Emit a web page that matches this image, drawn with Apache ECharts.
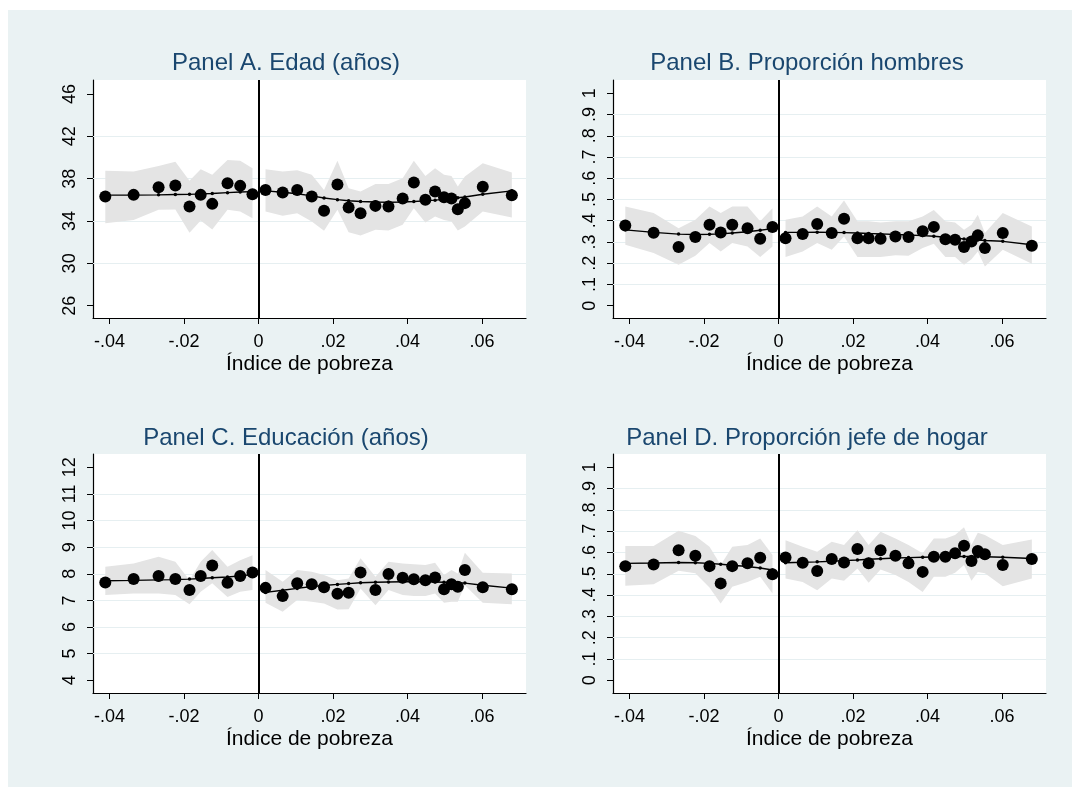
<!DOCTYPE html>
<html>
<head>
<meta charset="utf-8">
<script src="https://cdn.jsdelivr.net/npm/echarts@6/dist/echarts.min.js"></script>
<style>
  html, body { margin: 0; padding: 0; background: #ffffff; }
  #bg { position: absolute; left: 8px; top: 10px; width: 1064px; height: 777px; background: #EAF2F3; }
  #chart { position: absolute; left: 0; top: 0; width: 1072px; height: 787px; }
</style>
</head>
<body>
<div id="bg"></div>
<div id="chart"></div>
<script>
// ---------- Data ----------
const xBins = [-0.0411,-0.0335,-0.0268,-0.0223,-0.0185,-0.0155,-0.0124,-0.0083,-0.0049,-0.0016,
  0.0019,0.0065,0.0104,0.0143,0.0176,0.0212,0.0242,0.0274,0.0314,0.0349,
  0.0387,0.0417,0.0448,0.0474,0.0498,0.0518,0.0535,0.0554,0.0602,0.0680];
const cutoff = 0;

const panelTitles = ['Panel A. Edad (años)', 'Panel B. Proporción hombres',
  'Panel C. Educación (años)', 'Panel D. Proporción jefe de hogar'];
const xAxisTitle = 'Índice de pobreza';

const xTickVals = [-0.04, -0.02, 0, 0.02, 0.04, 0.06];
const xTickLabels = ['-.04', '-.02', '0', '.02', '.04', '.06'];

const yTicksA = [26, 30, 34, 38, 42, 46];
const yLabelsA = ['26', '30', '34', '38', '42', '46'];
const yTicksB = [0, 0.1, 0.2, 0.3, 0.4, 0.5, 0.6, 0.7, 0.8, 0.9, 1];
const yLabelsB = ['0', '.1', '.2', '.3', '.4', '.5', '.6', '.7', '.8', '.9', '1'];
const yTicksC = [4, 5, 6, 7, 8, 9, 10, 11, 12];
const yLabelsC = ['4', '5', '6', '7', '8', '9', '10', '11', '12'];
const yTicksD = [0, 0.1, 0.2, 0.3, 0.4, 0.5, 0.6, 0.7, 0.8, 0.9, 1];
const yLabelsD = ['0', '.1', '.2', '.3', '.4', '.5', '.6', '.7', '.8', '.9', '1'];

// Panel A: Edad
const meanA = [36.31,36.47,37.19,37.35,35.37,36.47,35.62,37.57,37.32,36.53,
  36.94,36.69,36.94,36.31,34.96,37.45,35.28,34.74,35.43,35.37,
  36.13,37.64,36.00,36.79,36.25,36.13,35.12,35.69,37.23,36.44];
const fitA = [36.45,36.45,36.47,36.50,36.52,36.56,36.60,36.68,36.74,36.78,
  36.85,36.72,36.58,36.38,36.18,36.02,35.92,35.84,35.80,35.78,
  35.80,35.84,35.90,35.97,36.04,36.12,36.20,36.27,36.53,36.85];
const hiA = [38.74,38.67,39.20,39.60,37.80,38.90,38.36,39.77,39.70,38.99,
  38.90,38.67,38.80,38.36,36.94,39.70,37.10,36.79,37.50,37.50,
  38.04,39.70,38.26,38.99,38.36,38.26,37.26,38.20,39.46,38.58];
const loA = [33.80,34.10,35.06,35.10,32.90,34.05,33.20,35.06,34.90,34.27,
  34.90,34.50,34.74,33.96,33.08,35.06,32.95,32.64,33.17,33.10,
  33.64,35.20,33.86,34.43,34.10,33.96,33.10,33.48,34.90,34.33];

// Panel B: Proporción hombres
const meanB = [0.378,0.343,0.276,0.323,0.381,0.345,0.381,0.365,0.315,0.370,
  0.318,0.337,0.384,0.342,0.409,0.318,0.318,0.315,0.326,0.323,
  0.350,0.371,0.313,0.310,0.276,0.302,0.331,0.271,0.342,0.282];
const fitB = [0.357,0.345,0.337,0.335,0.336,0.338,0.342,0.348,0.355,0.363,
  0.345,0.345,0.346,0.345,0.344,0.342,0.340,0.338,0.335,0.333,
  0.330,0.327,0.322,0.318,0.314,0.311,0.309,0.307,0.303,0.287];
const hiB = [0.467,0.436,0.365,0.404,0.467,0.436,0.467,0.467,0.397,0.459,
  0.404,0.420,0.467,0.420,0.495,0.397,0.397,0.392,0.397,0.397,
  0.420,0.451,0.397,0.392,0.357,0.381,0.428,0.342,0.436,0.373];
const loB = [0.287,0.248,0.193,0.235,0.295,0.255,0.295,0.279,0.229,0.279,
  0.229,0.255,0.295,0.263,0.326,0.229,0.229,0.229,0.237,0.235,
  0.271,0.292,0.229,0.229,0.193,0.219,0.255,0.185,0.263,0.197];

// Panel C: Educación
const meanC = [7.67,7.80,7.92,7.80,7.39,7.92,8.31,7.66,7.92,8.05,
  7.47,7.16,7.64,7.61,7.49,7.25,7.29,8.05,7.39,7.99,
  7.85,7.79,7.76,7.86,7.42,7.61,7.51,8.14,7.49,7.42];
const fitC = [7.74,7.75,7.77,7.78,7.80,7.82,7.85,7.88,7.92,7.97,
  7.30,7.38,7.45,7.52,7.56,7.60,7.63,7.66,7.68,7.69,
  7.70,7.70,7.70,7.69,7.68,7.67,7.66,7.65,7.57,7.46];
const hiC = [8.26,8.39,8.64,8.45,7.76,8.45,8.89,8.26,8.51,8.70,
  8.14,7.70,8.14,8.08,7.95,7.76,7.82,8.58,7.89,8.45,
  8.39,8.36,8.33,8.41,7.95,8.14,8.01,8.79,8.04,8.01];
const loC = [7.20,7.26,7.26,7.20,6.85,7.32,7.64,7.13,7.32,7.39,
  6.91,6.57,7.01,6.95,6.88,6.66,6.67,7.45,6.82,7.39,
  7.20,7.16,7.16,7.26,6.91,6.95,6.95,7.57,6.91,6.85];

// Panel D: Proporción jefe de hogar
const meanD = [0.536,0.544,0.611,0.585,0.536,0.455,0.536,0.549,0.575,0.498,
  0.577,0.552,0.513,0.569,0.553,0.616,0.549,0.611,0.585,0.549,
  0.509,0.580,0.580,0.596,0.632,0.560,0.607,0.592,0.541,0.569];
const fitD = [0.549,0.551,0.553,0.552,0.549,0.545,0.540,0.534,0.527,0.518,
  0.552,0.554,0.556,0.559,0.562,0.565,0.568,0.571,0.574,0.576,
  0.578,0.579,0.580,0.581,0.581,0.581,0.580,0.580,0.578,0.572];
const hiD = [0.630,0.630,0.702,0.677,0.627,0.541,0.627,0.635,0.666,0.588,
  0.658,0.627,0.603,0.650,0.635,0.705,0.635,0.697,0.666,0.635,
  0.596,0.666,0.666,0.682,0.718,0.635,0.693,0.682,0.635,0.661];
const loD = [0.444,0.451,0.514,0.502,0.436,0.361,0.439,0.462,0.486,0.408,
  0.478,0.462,0.423,0.478,0.467,0.525,0.458,0.520,0.494,0.462,
  0.415,0.486,0.486,0.505,0.541,0.467,0.509,0.502,0.442,0.478];

// ---------- Layout / style ----------
const FONT = 'Liberation Sans, Arial, Helvetica, sans-serif';
const TITLE_COLOR = '#1A476F';
const BAND_COLOR = '#E4E4E4';
const GRIDLINE_COLOR = '#E6EFF1';

const panels = [
  { title: panelTitles[0], mean: meanA, fit: fitA, hi: hiA, lo: loA, yTicks: yTicksA, yLabels: yLabelsA,
    ymin: 24.84, ymax: 47.32, grid: { left: 93, top: 80, width: 433, height: 238 }, titlePos: [286, 63] },
  { title: panelTitles[1], mean: meanB, fit: fitB, hi: hiB, lo: loB, yTicks: yTicksB, yLabels: yLabelsB,
    ymin: -0.058, ymax: 1.0625, grid: { left: 613, top: 80, width: 433, height: 238 }, titlePos: [807, 63] },
  { title: panelTitles[2], mean: meanC, fit: fitC, hi: hiC, lo: loC, yTicks: yTicksC, yLabels: yLabelsC,
    ymin: 3.52, ymax: 12.5, grid: { left: 93, top: 454, width: 433, height: 239 }, titlePos: [286, 438] },
  { title: panelTitles[3], mean: meanD, fit: fitD, hi: hiD, lo: loD, yTicks: yTicksD, yLabels: yLabelsD,
    ymin: -0.0597, ymax: 1.0625, grid: { left: 613, top: 454, width: 433, height: 239 }, titlePos: [807, 438] }
];

function labelFor(ticks, labels) {
  return function (v) {
    const i = ticks.findIndex(t => Math.abs(t - v) < 1e-9);
    return i >= 0 ? labels[i] : '';
  };
}

const grids = [], xAxes = [], yAxes = [], series = [], graphics = [];

panels.forEach((p, i) => {
  grids.push(Object.assign({ show: true, backgroundColor: '#ffffff', borderWidth: 0,
    containLabel: false, outerBoundsMode: 'none' }, p.grid));

  xAxes.push({
    type: 'value', gridIndex: i, min: -0.0444, max: 0.0718,
    axisLine: { show: true, onZero: false, lineStyle: { color: '#000', width: 1.2 } },
    axisTick: { show: true, length: 6, customValues: xTickVals, lineStyle: { color: '#000', width: 1 } },
    axisLabel: { customValues: xTickVals, formatter: labelFor(xTickVals, xTickLabels),
      margin: 15, color: '#000', fontSize: 18, fontFamily: FONT },
    splitLine: { show: false },
    name: xAxisTitle, nameLocation: 'middle', nameGap: 36,
    nameTextStyle: { color: '#000', fontSize: 21, fontFamily: FONT }
  });

  yAxes.push({
    type: 'value', gridIndex: i, min: p.ymin, max: p.ymax,
    axisLine: { show: true, onZero: false, lineStyle: { color: '#000', width: 1.2 } },
    axisTick: { show: true, length: 6, customValues: p.yTicks, lineStyle: { color: '#000', width: 1 } },
    axisLabel: { customValues: p.yTicks, formatter: labelFor(p.yTicks, p.yLabels), rotate: 90,
      margin: 14, color: '#000', fontSize: 18, fontFamily: FONT },
    splitLine: { show: false }
  });

  const gridVals = p.yTicks.slice(1, p.yTicks.length - 1);

  // split bins by side of cutoff
  const allIdx = xBins.map((x, k) => k);
  const sides = [
    allIdx.filter(k => xBins[k] < cutoff),
    allIdx.filter(k => xBins[k] >= cutoff)
  ];

  sides.forEach((idx, s) => {
    // confidence band: polygon built from the upper and lower arrays via the axis scales
    series.push({
      type: 'custom', xAxisIndex: i, yAxisIndex: i, z: 2, silent: true,
      data: idx.map(k => [xBins[k], p.lo[k], p.hi[k]]),
      encode: { x: 0, y: [1, 2] },
      renderItem: function (params, api) {
        if (params.dataIndex !== 0) return null;
        const pts = [];
        idx.forEach(k => pts.push(api.coord([xBins[k], p.hi[k]])));
        idx.slice().reverse().forEach(k => pts.push(api.coord([xBins[k], p.lo[k]])));
        return { type: 'polygon', shape: { points: pts }, style: { fill: BAND_COLOR } };
      }
    });
    // fitted line
    series.push({
      type: 'line', xAxisIndex: i, yAxisIndex: i, z: 4,
      data: idx.map(k => [xBins[k], p.fit[k]]),
      symbol: 'circle', symbolSize: 3.5, showSymbol: true,
      itemStyle: { color: '#000' }, lineStyle: { color: '#000', width: 1.4 },
      silent: true,
      markLine: s === 0 ? {
        z: 3, silent: true, symbol: ['none', 'none'], label: { show: false },
        lineStyle: { color: '#000', width: 2, type: 'solid' },
        emphasis: { disabled: true },
        data: [{ xAxis: cutoff }]
      } : undefined
    });
  });

  series.push({
    type: 'scatter', xAxisIndex: i, yAxisIndex: i, z: 5,
    data: xBins.map((x, k) => [x, p.mean[k]]),
    symbol: 'circle', symbolSize: 12, itemStyle: { color: '#000', opacity: 1 }, silent: true,
    markLine: {
      z: 1, silent: true, symbol: ['none', 'none'], label: { show: false },
      lineStyle: { color: GRIDLINE_COLOR, width: 1.2, type: 'solid' },
      emphasis: { disabled: true },
      data: gridVals.map(v => ({ yAxis: v }))
    }
  });

  graphics.push({
    type: 'text', x: p.titlePos[0], y: p.titlePos[1], silent: true,
    style: { text: p.title, fill: TITLE_COLOR, font: '24px ' + FONT,
      textAlign: 'center', textVerticalAlign: 'middle', align: 'center', verticalAlign: 'middle' }
  });
});

const chart = echarts.init(document.getElementById('chart'), null, { renderer: 'canvas' });
chart.setOption({
  animation: false,
  backgroundColor: 'transparent',
  grid: grids,
  xAxis: xAxes,
  yAxis: yAxes,
  series: series,
  graphic: graphics
});
</script>
</body>
</html>
